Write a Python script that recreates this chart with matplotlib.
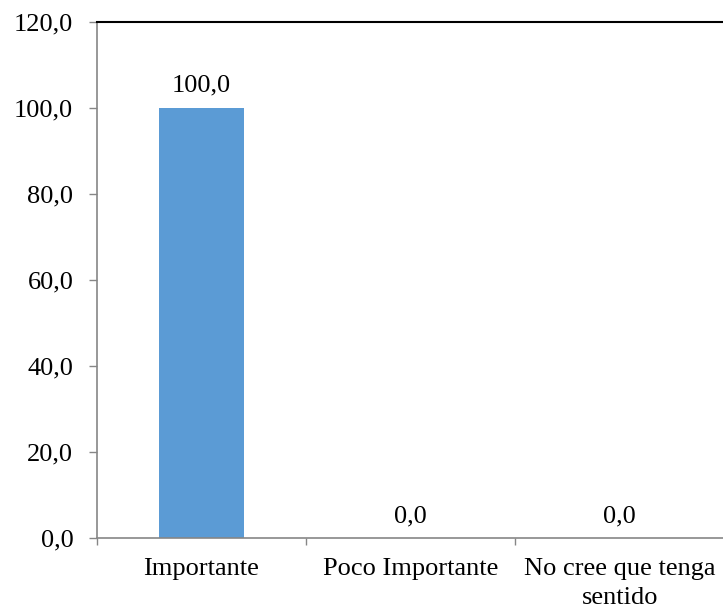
import matplotlib
matplotlib.use("Agg")
import matplotlib.pyplot as plt
import numpy as np

# Data
categories = ["Importante", "Poco Importante", "No cree que tenga\nsentido"]
values = [100.0, 0.0, 0.0]
yticks = [0, 20, 40, 60, 80, 100, 120]

plt.rcParams["font.family"] = ["Liberation Serif", "DejaVu Serif"]

fig = plt.figure(figsize=(7.23, 6.08), dpi=100)
ax = fig.add_axes([0.134, 0.115, 0.868, 0.849])

x = np.arange(len(categories))
ax.bar(x, values, width=0.405, color="#5B9BD5", zorder=2)

ax.set_xlim(-0.5, len(categories) - 0.5)
ax.set_ylim(0, 120)

# value labels
for xi, v in zip(x, values):
    ax.annotate(f"{v:.1f}".replace(".", ","), (xi, v), xytext=(0, 11.5),
                textcoords="offset points", ha="center", va="baseline",
                fontsize=19, color="black")

# y axis
ax.set_yticks(yticks)
ax.set_yticklabels([f"{t:.1f}".replace(".", ",") for t in yticks], fontsize=19)
ax.tick_params(axis="y", direction="out", length=6, width=1, color="#868686", pad=11)

# x axis: labels at centers, tick marks at boundaries
ax.set_xticks(x)
ax.set_xticklabels(categories, fontsize=19, linespacing=1.45)
ax.tick_params(axis="x", which="major", length=0, pad=14)
ax.set_xticks(np.arange(len(categories)) - 0.5, minor=True)
ax.tick_params(axis="x", which="minor", direction="out", length=5, width=1, color="#868686")

for s in ["left", "bottom"]:
    ax.spines[s].set_color("#868686")
    ax.spines[s].set_linewidth(1.2)
ax.spines["top"].set_color("black")
ax.spines["top"].set_linewidth(1.5)
ax.spines["right"].set_visible(False)

fig.savefig("out.png", dpi=100)
